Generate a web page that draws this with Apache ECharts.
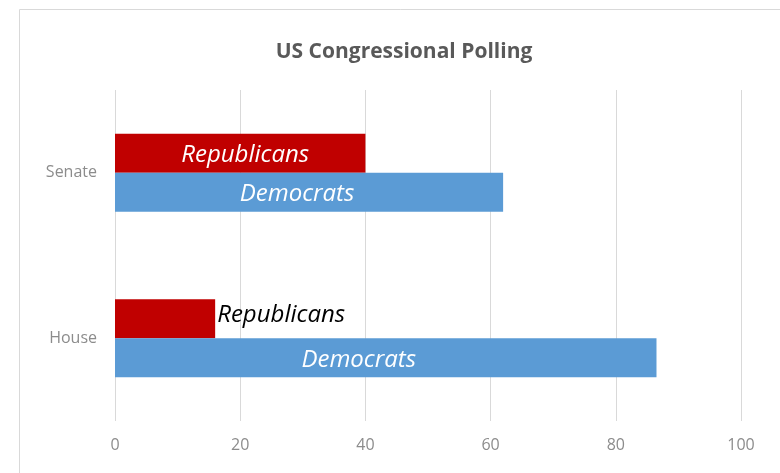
<!DOCTYPE html>
<html><head><meta charset="utf-8">
<script src="https://cdn.jsdelivr.net/npm/echarts@6/dist/echarts.min.js"></script>
<style>html,body{margin:0;padding:0;background:#fff}#c{width:780px;height:473px}</style>
</head><body><div id="c"></div>
<script>
const categories = ['Senate', 'House'];
const republicans = [40, 16];
const democrats = [62, 86.5];
const xTicks = [0, 20, 40, 60, 80, 100];

const font = '"Open Sans", sans-serif';
const chart = echarts.init(document.getElementById('c'));
const repLabels = [
  {position: 'inside', color: '#fff', offset: [5, 2]},
  {position: 'right', color: '#000', distance: 2, offset: [0, -4]}
];
const demLabels = [
  {position: 'inside', color: '#fff', offset: [-12, 2]},
  {position: 'inside', color: '#fff', offset: [-27, 2]}
];
chart.setOption({
  animation: false,
  title: {
    text: 'US Congressional Polling', left: 399, top: 37, textAlign: 'center',
    textStyle: {fontFamily: font, fontWeight: 'bold', fontSize: 21, color: '#595959'}
  },
  graphic: [{
    type: 'rect', shape: {x: 19.5, y: 9.5, width: 800, height: 500}, silent: true,
    style: {fill: 'none', stroke: '#d9d9d9', lineWidth: 1}
  }],
  grid: {left: 115, right: 39, top: 90, bottom: 52, containLabel: false},
  xAxis: {
    type: 'value', min: xTicks[0], max: xTicks[xTicks.length - 1], interval: 20,
    axisLine: {show: false}, axisTick: {show: false},
    splitLine: {lineStyle: {color: '#d9d9d9', width: 1}},
    axisLabel: {fontFamily: font, fontSize: 16, color: '#8c8c8c', margin: 16}
  },
  yAxis: {
    type: 'category', data: categories, inverse: true,
    axisLine: {show: false}, axisTick: {show: false},
    axisLabel: {fontFamily: font, fontSize: 16, color: '#8c8c8c', margin: 18, padding: [4, 0, 0, 0]}
  },
  series: [
    {
      name: 'Republicans', type: 'bar', barWidth: 39, barGap: '0%',
      itemStyle: {color: '#C00000'},
      data: republicans.map((v, i) => ({value: v, label: repLabels[i]})),
      label: {show: true, formatter: '{a}', fontFamily: font, fontStyle: 'italic', fontSize: 24}
    },
    {
      name: 'Democrats', type: 'bar', barWidth: 39, barGap: '0%',
      itemStyle: {color: '#5B9BD5'},
      data: democrats.map((v, i) => ({value: v, label: demLabels[i]})),
      label: {show: true, formatter: '{a}', fontFamily: font, fontStyle: 'italic', fontSize: 24}
    }
  ]
});
</script></body></html>
